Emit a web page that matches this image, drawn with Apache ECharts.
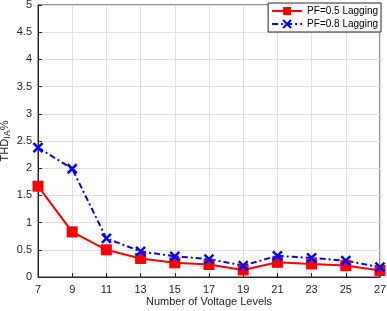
<!DOCTYPE html>
<html><head><meta charset="utf-8">
<script src="https://cdn.jsdelivr.net/npm/echarts@6/dist/echarts.min.js"></script>
<style>html,body{margin:0;padding:0;background:#fff}#c{width:387px;height:311px}</style>
</head><body><div id="c"></div>
<script>
const levels = [7, 9, 11, 13, 15, 17, 19, 21, 23, 25, 27];
const pf05 = [1.67, 0.83, 0.50, 0.34, 0.26, 0.23, 0.13, 0.27, 0.24, 0.21, 0.12];
const pf08 = [2.38, 1.99, 0.71, 0.47, 0.38, 0.33, 0.21, 0.39, 0.35, 0.30, 0.18];
const seriesNames = ['PF=0.5 Lagging', 'PF=0.8 Lagging'];

const chart = echarts.init(document.getElementById('c'), null, {renderer: 'canvas'});
const axisCommon = {
  axisLine: {show: true, onZero: false, lineStyle: {color: '#262626', width: 1}},
  axisTick: {show: true, inside: true, length: 4, lineStyle: {color: '#262626'}},
  axisLabel: {color: '#262626', fontSize: 11, fontFamily: 'Liberation Sans, Arial'},
  splitLine: {show: true, lineStyle: {color: '#e0e0e0', width: 1}}
};
chart.setOption({
  animation: false,
  grid: {left: 38, right: 7, top: 5, bottom: 34, show: true, borderColor: '#262626', borderWidth: 1, containLabel: false, outerBoundsMode: 'none'},
  xAxis: Object.assign({
    type: 'value', min: 7, max: 27, interval: 2,
    name: 'Number of Voltage Levels', nameLocation: 'middle', nameGap: 19, nameMoveOverlap: false,
    nameTextStyle: {color: '#262626', fontSize: 11, fontFamily: 'Liberation Sans, Arial'}
  }, axisCommon, {axisLabel: Object.assign({}, axisCommon.axisLabel, {margin: 7})}),
  yAxis: Object.assign({
    type: 'value', min: 0, max: 5, interval: 0.5,
    name: '{a|THD}{s|IA}{a|%}', nameLocation: 'middle', nameGap: 26, nameMoveOverlap: false,
    nameTextStyle: {
      rich: {
        a: {fontSize: 11, color: '#262626', fontFamily: 'Liberation Sans, Arial'},
        s: {fontSize: 9, color: '#262626', fontFamily: 'Liberation Sans, Arial', verticalAlign: 'bottom', padding: [6, 0, 0, 0]}
      }
    }
  }, axisCommon, {axisLabel: Object.assign({}, axisCommon.axisLabel, {margin: 6})}),
  legend: {
    right: 6, top: 3, orient: 'vertical', itemGap: 3, itemWidth: 30, itemHeight: 10,
    backgroundColor: '#fff', borderColor: '#262626', borderWidth: 1, borderRadius: 0,
    padding: [3, 3, 3, 3],
    textStyle: {fontSize: 10, color: '#000', fontFamily: 'Liberation Sans, Arial'},
    data: seriesNames
  },
  series: [
    {
      name: seriesNames[0], type: 'line',
      data: levels.map((x, i) => [x, pf05[i]]),
      symbol: 'rect', symbolSize: 11,
      lineStyle: {color: '#ff0000', width: 2},
      itemStyle: {color: '#ff0000'}
    },
    {
      name: seriesNames[1], type: 'line',
      data: levels.map((x, i) => [x, pf08[i]]),
      symbol: 'path://M0,0L10,10M10,0L0,10', symbolSize: 9,
      lineStyle: {color: '#0000ff', width: 2, type: [6, 3, 2, 3]},
      itemStyle: {color: 'rgba(0,0,0,0)', borderColor: '#0000ff', borderWidth: 2.5}
    }
  ]
});
</script></body></html>
